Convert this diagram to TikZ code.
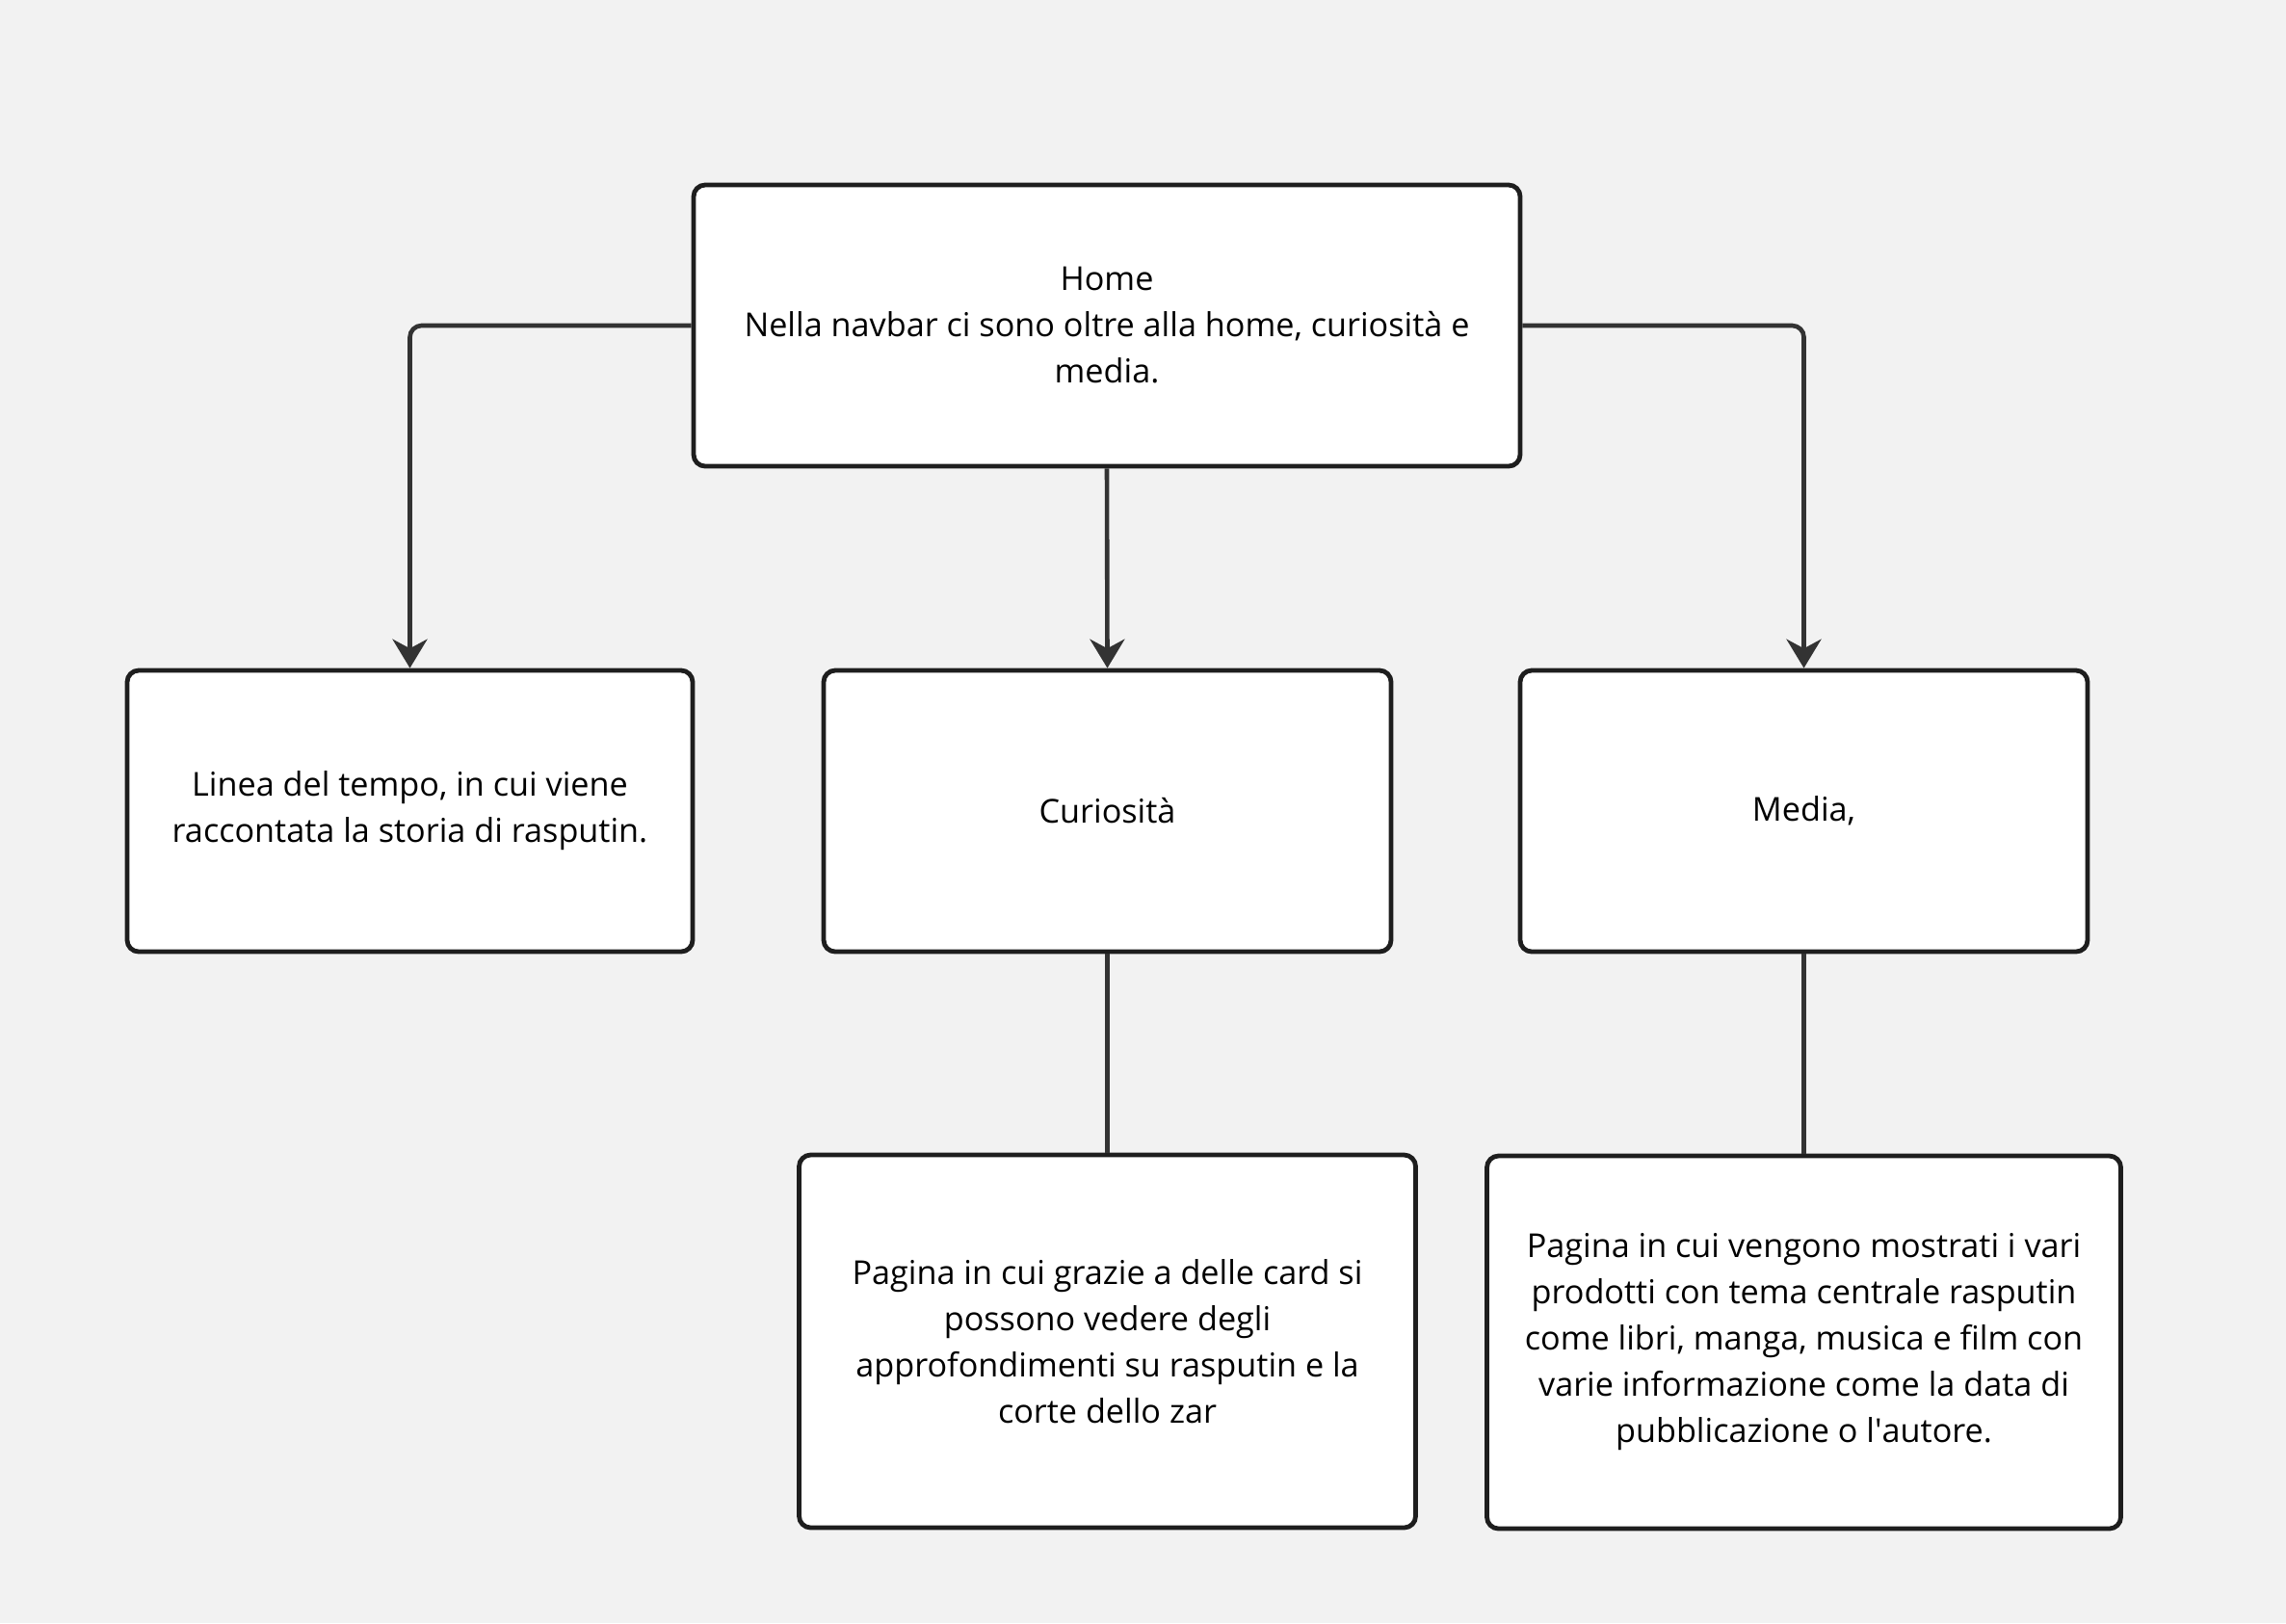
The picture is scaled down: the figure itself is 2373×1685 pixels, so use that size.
\documentclass[tikz,border=0pt]{standalone}
\usepackage{fontspec}
\setmainfont{Open Sans}
\usepackage{tikz}
\usetikzlibrary{positioning,arrows.meta}

\definecolor{bgcol}{HTML}{F2F2F2}
\definecolor{boxline}{HTML}{1E1E1E}
\definecolor{linkcol}{HTML}{333333}

\tikzset{
	box/.style={draw=boxline, fill=white, line width=1.2pt, rounded corners=3pt,
		align=center, inner sep=0pt, font=\fontsize{8.55}{12}\selectfont},
	link/.style={draw=linkcol, line width=1.15pt, rounded corners=3pt},
	arr/.style={link, -{Stealth[length=7.5pt,width=9pt,inset=2.4pt]}}
}

\begin{document}
\begin{tikzpicture}[x=0.25pt,y=-0.25pt]
	\fill[bgcol] (0,0) rectangle (2373,1685);
	\useasboundingbox (0,0) rectangle (2373,1685);
	% top level
	\node[box, minimum width=214.5pt, minimum height=73pt] (home) at (1149,338)
		{Home\\Nella navbar ci sono oltre alla home, curiosità e\\media.};
	% second row
	\node[box, minimum width=146.75pt, minimum height=73pt] (timeline) at (425.5,842)
		{Linea del tempo, in cui viene\\raccontata la storia di rasputin.};
	\node[box, minimum width=147.25pt, minimum height=73pt] (curio) at (1149.5,842) {Curiosità};
	\node[box, minimum width=147.25pt, minimum height=73pt] (media) at (1872.5,842) {Media,};
	% details
	\node[box, minimum width=160pt, minimum height=96.75pt] (curiodet) at (1149.5,1392.5)
		{Pagina in cui grazie a delle card si\\possono vedere degli\\approfondimenti su rasputin e la\\corte dello zar};
	\node[box, minimum width=164.5pt, minimum height=96.75pt] (mediadet) at (1872.5,1393.5)
		{Pagina in cui vengono mostrati i vari\\prodotti con tema centrale rasputin\\come libri, manga, musica e film con\\varie informazione come la data di\\pubblicazione o l\textquotesingle autore.};
	% connectors
	\draw[arr] (home.west) -| (timeline.north);
	\draw[arr] (home.south) -- (curio.north);
	\draw[arr] (home.east) -| (media.north);
	\draw[link] (curio.south) -- (curiodet.north);
	\draw[link] (media.south) -- (mediadet.north);
\end{tikzpicture}
\end{document}
